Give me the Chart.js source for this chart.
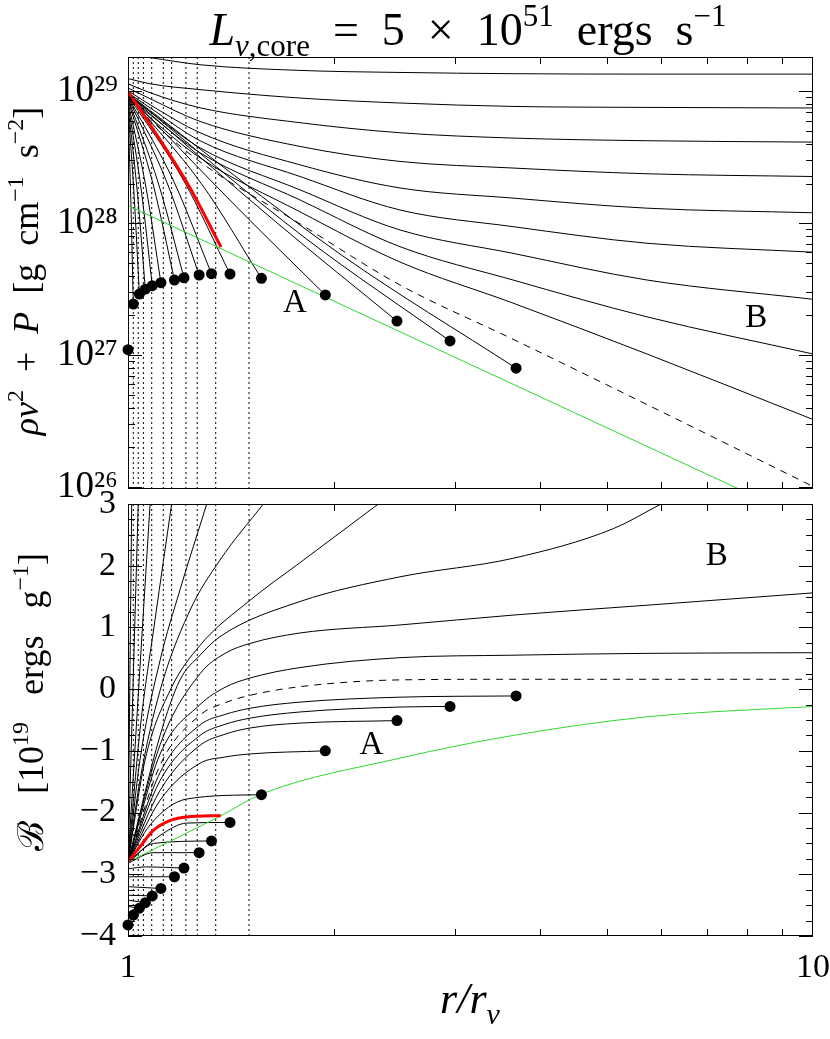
<!DOCTYPE html>
<html>
<head>
<meta charset="utf-8">
<title>L_core = 5e51</title>
<script src="https://cdn.jsdelivr.net/npm/chart.js@4.4.1/dist/chart.umd.min.js"></script>
<style>
  html, body { margin: 0; background: #fff; }
  #stage { position: relative; width: 830px; height: 1039px; overflow: hidden; }
  canvas { position: absolute; left: 0; }
  #top { top: 0; }
  #bottom { top: 480px; }
</style>
</head>
<body>
<div id="stage">
  <canvas id="top" width="830" height="510"></canvas>
  <canvas id="bottom" width="830" height="559"></canvas>
</div>
<script>
// end points of the A family (black dots), same radii in both panels
const dotR = [1.0, 1.018, 1.039, 1.060, 1.085, 1.117, 1.169, 1.207, 1.270, 1.324, 1.409, 1.566, 1.941, 2.470, 2.952, 3.686]
const dotTop = [1.1e27, 2.44e27, 2.90e27, 3.16e27, 3.36e27, 3.54e27, 3.71e27, 3.86e27, 4.05e27, 4.14e27, 4.12e27, 3.82e27, 2.86e27, 1.81e27, 1.28e27, 7.96e26]
const dotBottom = [-3.82, -3.66, -3.55, -3.46, -3.35, -3.23, -3.04, -2.90, -2.65, -2.46, -2.16, -1.71, -1.00, -0.51, -0.28, -0.11]

// dotted verticals
const sonicR = [1.018, 1.035, 1.053, 1.083, 1.126, 1.158, 1.215, 1.262, 1.343, 1.502]

// top panel: B family sampled on gridR
const gridR = [1, 1.077, 1.274, 1.783, 2.495, 3.648, 5.723, 10]
const topBreeze = [
  [1.90e29, 1.80e29, 1.59e29, 1.44e29, 1.39e29, 1.36e29, 1.35e29, 1.35e29],
  [1.25e29, 1.14e29, 1.03e29, 8.89e28, 8.15e28, 7.68e28, 7.55e28, 7.47e28],
  [1.14e29, 9.75e28, 7.50e28, 5.78e28, 4.85e28, 4.42e28, 4.22e28, 4.12e28],
  [1.06e29, 8.79e28, 5.91e28, 3.82e28, 2.94e28, 2.62e28, 2.37e28, 2.26e28],
  [1.01e29, 7.91e28, 4.85e28, 2.77e28, 1.85e28, 1.55e28, 1.30e28, 1.20e28],
  [9.75e28, 7.50e28, 4.22e28, 2.26e28, 1.26e28, 9.42e27, 7.05e27, 6.03e27],
  [9.42e28, 7.00e28, 3.73e28, 1.79e28, 8.89e27, 5.91e27, 3.71e27, 2.65e27],
  [9.10e28, 6.64e28, 3.42e28, 1.50e28, 6.64e27, 3.71e27, 1.95e27, 1.02e27],
  [8.94e28, 6.31e28, 3.13e28, 1.22e28, 5.08e27, 2.48e27, 1.02e27, 3.25e26],
]
const topCritical = [8.79e28, 6.09e28, 2.92e28, 9.89e27, 3.40e27, 1.32e27, 4.22e26, 1.01e26]

// top panel: A family, leading points (the dot closes each curve)
const topAccretion = [
  [[1, 7.24e28], [1.0098, 1.42e28]],
  [[1, 7.51e28], [1.0211, 1.57e28]],
  [[1, 7.78e28], [1.0324, 1.67e28]],
  [[1, 8.05e28], [1.0461, 1.75e28]],
  [[1, 8.34e28], [1.0631, 1.83e28]],
  [[1, 8.64e28], [1.0898, 1.91e28]],
  [[1, 8.79e28], [1.109, 1.96e28]],
  [[1, 8.95e28], [1.1406, 2.02e28]],
  [[1, 9.11e28], [1.1667, 2.07e28]],
  [[1, 9.27e28], [1.2075, 2.08e28]],
  [[1, 9.27e28], [1.2794, 2.00e28]],
  [[1, 9.43e28], [1.4402, 1.33e28]],
  [[1, 9.43e28], [1.6449, 1.02e28]],
  [[1, 9.60e28], [1.8138, 7.73e27]],
  [[1, 9.60e28], [2.0492, 5.74e27]],
]
const topRed = [[1, 1.0e29], [1.077, 5.6e28], [1.232, 1.85e28], [1.367, 6.6e27]]
const topGreen = [[1, 1.36e28], [10, 5.3e25]]

// bottom panel
const bottomBreeze = [
  [[1, -2.8], [1.0125, 3.0]],
  [[1, -2.8], [1.035, 3.0]],
  [[1, -2.8], [1.034, -0.18], [1.077, 3.0]],
  [[1, -2.8], [1.041, -0.67], [1.095, 1.12], [1.158, 3.0]],
  [[1, -2.8], [1.041, -1.15], [1.114, 0.47], [1.191, 1.61], [1.303, 3.0]],
  [[1, -2.8], [1.041, -1.48], [1.114, -0.02], [1.232, 1.28], [1.362, 2.09], [1.576, 3.0]],
  [[1, -2.8], [1.059, -1.15], [1.152, -0.02], [1.274, 0.71], [1.507, 1.44], [1.783, 2.05], [2.320, 3.0]],
  [[1, -2.8], [1.114, -0.75], [1.191, 0.15], [1.274, 0.55], [1.362, 0.85], [1.783, 1.42], [2.495, 1.82], [3.648, 2.12], [5.11, 2.60], [6.0, 3.0]],
  [[1, -2.8], [1.114, -0.90], [1.274, 0.25], [1.386, 0.58], [1.507, 0.74], [1.783, 0.91], [2.495, 1.04], [3.648, 1.20], [5.723, 1.36], [10, 1.56]],
  [[1, -2.8], [1.114, -1.05], [1.274, -0.25], [1.386, 0.03], [1.507, 0.18], [1.783, 0.35], [2.495, 0.51], [3.648, 0.55], [5.723, 0.58], [10, 0.59]],
]
const bottomCriticalR = [1, 1.114, 1.274, 1.386, 1.507, 1.783, 2.495, 3.648, 10]
const bottomCritical = [-2.80, -1.23, -0.42, -0.22, -0.10, 0.04, 0.15, 0.16, 0.16]
const bottomAccretion = [
  [[1, -3.63]],
  [[1, -3.52]],
  [[1, -3.42]],
  [[1, -3.34]],
  [[1, -3.20]],
  [[1, -3.04]],
  [[1, -2.91], [1.065, -2.88]],
  [[1, -2.82], [1.089, -2.65]],
  [[1, -2.82], [1.089, -2.50]],
  [[1, -2.80], [1.114, -2.37], [1.218, -2.17]],
  [[1, -2.80], [1.077, -2.20], [1.218, -1.78]],
  [[1, -2.80], [1.114, -1.80], [1.274, -1.20], [1.386, -1.10], [1.507, -1.05]],
  [[1, -2.80], [1.114, -1.64], [1.274, -0.91], [1.386, -0.73], [1.507, -0.63], [1.783, -0.55]],
  [[1, -2.80], [1.114, -1.48], [1.274, -0.75], [1.386, -0.57], [1.507, -0.47], [1.783, -0.37], [2.495, -0.29]],
  [[1, -2.80], [1.114, -1.35], [1.274, -0.58], [1.386, -0.41], [1.507, -0.31], [1.783, -0.21], [2.495, -0.13]],
]
const bottomRed = [[1, -2.80], [1.04, -2.56], [1.089, -2.29], [1.158, -2.12], [1.218, -2.07], [1.366, -2.05]]
const bottomGreen = [[1, -2.80], [1.362, -2.06], [1.567, -1.70], [2.49, -1.12], [3.65, -0.75], [5.71, -0.45], [10, -0.28]]

// axes
const xLabels = [1, 10]
const xMinor = [2, 3, 4, 5, 6, 7, 8, 9]
const topRange = [9.66e25, 1.82e29]
const topYLabels = [1e26, 1e27, 1e28, 1e29]
const bottomRange = [-4, 3]
const bottomYLabels = [-4, -3, -2, -1, 0, 1, 2, 3]

const topLetters = [[1.753, 2.47e27, 'A'], [8.26, 1.90e27, 'B']]
const bottomLetters = [[2.267, -0.908, 'A'], [7.236, 2.144, 'B']]

const FONT = "'Liberation Serif', 'DejaVu Serif', serif"
const GREEN = '#2ed82e'
const SUP = { 0: '⁰', 1: '¹', 2: '²', 3: '³', 4: '⁴', 5: '⁵', 6: '⁶', 7: '⁷', 8: '⁸', 9: '⁹', '-': '⁻' }
const sup = (s) => s.replace(/[0-9-]/g, (c) => SUP[c])

const xy = (arr) => arr.map(([x, y]) => ({ x, y }))

const curve = (data, extra) => Object.assign({
  data: xy(data),
  showLine: true,
  borderColor: '#000',
  borderWidth: 1,
  pointRadius: 0,
  cubicInterpolationMode: 'monotone',
  order: 5,
}, extra)

const verticals = (lo, hi) => sonicR.map((r) => ({
  data: [{ x: r, y: lo }, { x: r, y: hi }],
  showLine: true,
  borderColor: '#000',
  borderWidth: 1,
  borderDash: [2, 3],
  pointRadius: 0,
  tension: 0,
  order: 9,
}))

const dots = (vals) => ({
  data: dotR.map((r, i) => ({ x: r, y: vals[i] })),
  showLine: false,
  pointRadius: 5.5,
  pointBackgroundColor: '#000',
  pointBorderColor: '#000',
  pointBorderWidth: 0,
  clip: false,
  order: 0,
})

// inward ticks on all four sides plus the box
const frame = {
  id: 'frame',
  afterDraw(chart, _, o) {
    const { ctx, chartArea: a, scales: { x, y } } = chart
    ctx.save()
    ctx.strokeStyle = '#000'
    ctx.lineWidth = 1
    ctx.beginPath()
    for (const [v, len] of o.xTicks) {
      const px = Math.round(x.getPixelForValue(v)) + 0.5
      ctx.moveTo(px, a.top)
      ctx.lineTo(px, a.top + len)
      ctx.moveTo(px, a.bottom)
      ctx.lineTo(px, a.bottom - len)
    }
    for (const [v, len] of o.yTicks) {
      const py = Math.round(y.getPixelForValue(v)) + 0.5
      ctx.moveTo(a.left, py)
      ctx.lineTo(a.left + len, py)
      ctx.moveTo(a.right, py)
      ctx.lineTo(a.right - len, py)
    }
    ctx.stroke()
    ctx.strokeRect(Math.round(a.left) + 0.5, Math.round(a.top) + 0.5, Math.round(a.width) - 1, Math.round(a.height) - 1)
    ctx.restore()
  },
}

function richText(ctx, segs, size) {
  const parts = segs.map(([text, kind = '']) => {
    const small = kind.includes('^') || kind.includes('_')
    const font = (kind.includes('i') ? 'italic ' : '') + Math.round(small ? size * 0.68 : size) + 'px ' + FONT
    ctx.font = font
    return {
      text, font,
      w: ctx.measureText(text).width,
      dy: kind.includes('^') ? -size * 0.42 : kind.includes('_') ? size * 0.24 : 0,
    }
  })
  const total = parts.reduce((s, p) => s + p.w, 0)
  let x = -total / 2
  for (const p of parts) {
    ctx.font = p.font
    ctx.fillText(p.text, x, p.dy)
    x += p.w
  }
}

const captions = {
  id: 'captions',
  afterDraw(chart, _, o) {
    const { ctx, scales: { x, y } } = chart
    for (const it of o.items || []) {
      ctx.save()
      ctx.fillStyle = '#000'
      ctx.textAlign = 'left'
      ctx.textBaseline = 'alphabetic'
      ctx.translate(it.x, it.y)
      if (it.rotate) ctx.rotate(it.rotate)
      richText(ctx, it.segs, it.size)
      ctx.restore()
    }
    for (const [r, v, t] of o.letters || []) {
      ctx.save()
      ctx.fillStyle = '#000'
      ctx.font = '33px ' + FONT
      ctx.textAlign = 'center'
      ctx.textBaseline = 'middle'
      ctx.fillText(t, x.getPixelForValue(r), y.getPixelForValue(v))
      ctx.restore()
    }
  },
}

const xTicks = xMinor.map((v) => [v, 7])
const topYTicks = []
;[1e25, 1e26, 1e27, 1e28, 1e29].forEach((d) => {
  xMinor.forEach((k) => {
    const v = d * k
    if (v > topRange[0] && v < topRange[1]) topYTicks.push([v, 7])
  })
})
topYLabels.forEach((v) => topYTicks.push([v, 14]))
const bottomYTicks = []
for (let v = bottomRange[0]; v <= bottomRange[1]; v += 0.25) {
  bottomYTicks.push([v, Number.isInteger(v) ? 14 : 7])
}

const noGrid = { display: false, drawTicks: false }
const fixWidth = (s) => { s.width = 128; s.paddingTop = 0; s.paddingBottom = 0 }

// ---- top panel
const topSets = [
  dots(dotTop),
  curve(topRed, { borderColor: '#ff0000', borderWidth: 3, order: 1 }),
  curve(topGreen, { borderColor: GREEN, order: 2 }),
  ...topBreeze.map((vals) => curve(vals.map((v, i) => [gridR[i], v]))),
  curve(topCritical.map((v, i) => [gridR[i], v]), { borderDash: [7, 6] }),
  ...topAccretion.map((lead, i) => curve(lead.concat([[dotR[i + 1], dotTop[i + 1]]]))),
  ...verticals(topRange[0], topRange[1]),
]

new Chart(document.getElementById('top'), {
  type: 'scatter',
  data: { datasets: topSets },
  options: {
    responsive: false,
    animation: false,
    events: [],
    layout: { padding: { top: 57, right: 17, bottom: 21, left: 0 } },
    plugins: {
      legend: { display: false },
      tooltip: { enabled: false },
      frame: { xTicks, yTicks: topYTicks },
      captions: {
        letters: topLetters,
        items: [
          {
            x: 468, y: 45, size: 46,
            segs: [['L', 'i'], ['ν', '_i'], [',core', '_'], ['  =  5  ×  10'], ['51', '^'], ['  ergs  s'], ['−1', '^']],
          },
          {
            x: 38, y: 271, size: 36, rotate: -Math.PI / 2,
            segs: [['ρv', 'i'], ['2', '^'], ['  +  '], ['P', 'i'], ['  [g  cm'], ['−1', '^'], ['  s'], ['−2', '^'], [']']],
          },
        ],
      },
    },
    scales: {
      x: { type: 'logarithmic', min: 1, max: 10, display: false },
      y: {
        type: 'logarithmic',
        min: topRange[0],
        max: topRange[1],
        afterFit: fixWidth,
        afterBuildTicks: (s) => { s.ticks = topYLabels.map((value) => ({ value })) },
        grid: noGrid,
        border: { display: false },
        ticks: {
          padding: 10,
          color: '#000',
          font: { family: FONT, size: 37 },
          callback: (v) => '10' + sup(String(Math.round(Math.log10(v)))),
        },
      },
    },
  },
  plugins: [frame, captions],
})

// ---- bottom panel
const bottomSets = [
  dots(dotBottom),
  curve(bottomRed, { borderColor: '#ff0000', borderWidth: 3, order: 1 }),
  curve(bottomGreen, { borderColor: GREEN, order: 2 }),
  ...bottomBreeze.map((c) => curve(c)),
  curve(bottomCritical.map((v, i) => [bottomCriticalR[i], v]), { borderDash: [7, 6] }),
  ...bottomAccretion.map((lead, i) => curve(lead.concat([[dotR[i + 1], dotBottom[i + 1]]]))),
  ...verticals(bottomRange[0], bottomRange[1]),
]

new Chart(document.getElementById('bottom'), {
  type: 'scatter',
  data: { datasets: bottomSets },
  options: {
    responsive: false,
    animation: false,
    events: [],
    layout: { padding: { top: 24, right: 17, bottom: 0, left: 0 } },
    plugins: {
      legend: { display: false },
      tooltip: { enabled: false },
      frame: { xTicks, yTicks: bottomYTicks },
      captions: {
        letters: bottomLetters,
        items: [
          {
            x: 43, y: 222, size: 36, rotate: -Math.PI / 2,
            segs: [['ℬ'], ['   [10'], ['19', '^'], ['   ergs   g'], ['−1', '^'], [']']],
          },
          { x: 470, y: 533, size: 44, segs: [['r/r', 'i'], ['ν', '_i']] },
        ],
      },
    },
    scales: {
      x: {
        type: 'logarithmic',
        min: 1,
        max: 10,
        afterFit: (s) => { s.height = 103; s.paddingLeft = 0; s.paddingRight = 0 },
        afterBuildTicks: (s) => { s.ticks = xLabels.map((value) => ({ value })) },
        grid: noGrid,
        border: { display: false },
        ticks: {
          padding: 12, autoSkip: false, maxRotation: 0, color: '#000',
          font: { family: FONT, size: 34 }, callback: (v) => String(v),
        },
      },
      y: {
        min: bottomRange[0],
        max: bottomRange[1],
        afterFit: fixWidth,
        afterBuildTicks: (s) => { s.ticks = bottomYLabels.map((value) => ({ value })) },
        grid: noGrid,
        border: { display: false },
        ticks: {
          padding: 12,
          color: '#000',
          font: { family: FONT, size: 34 },
          callback: (v) => (v < 0 ? '−' + (-v) : String(v)),
        },
      },
    },
  },
  plugins: [frame, captions],
})
</script>
</body>
</html>
